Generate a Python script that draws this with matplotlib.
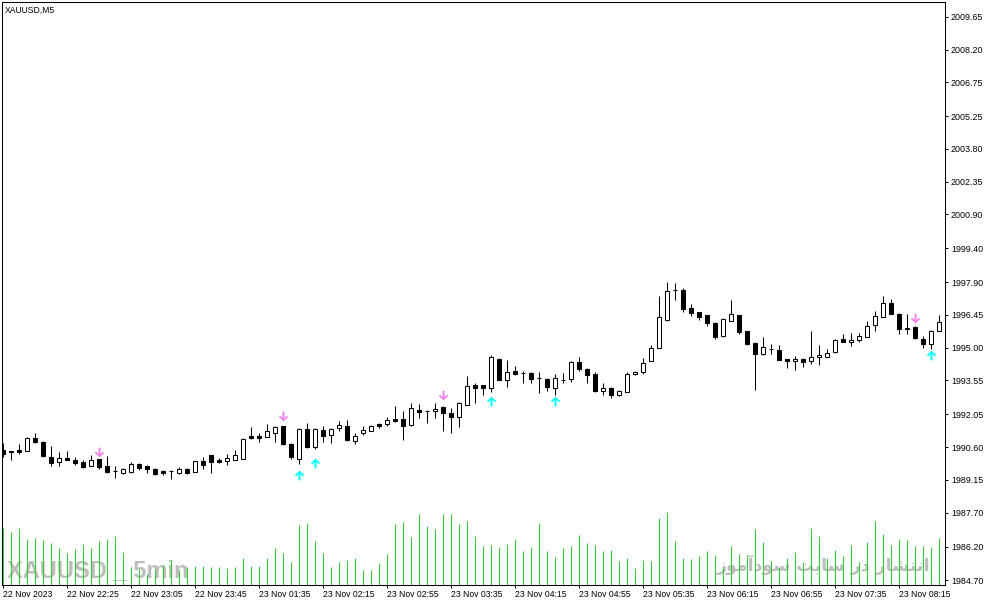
import matplotlib
matplotlib.use('Agg')
import matplotlib.pyplot as plt
from matplotlib.path import Path
import numpy as np

# XAUUSD M5 candles, 22 Nov 2023 21:45 .. 23 Nov 08:30
opens = [1990.47, 1990.41, 1990.47, 1990.44, 1990.99, 1990.84, 1990.18, 1989.94, 1990.13, 1990.01,
         1989.93, 1989.78, 1990.06, 1989.75, 1989.53, 1989.45, 1989.50, 1989.87, 1989.78, 1989.65,
         1989.53, 1989.56, 1989.47, 1989.62, 1989.51, 1989.97, 1990.24, 1990.03, 1989.98, 1990.03,
         1990.07, 1991.08, 1991.08, 1991.06, 1991.22, 1991.53, 1990.74, 1990.09, 1991.39, 1990.60,
         1991.34, 1991.15, 1991.45, 1991.52, 1990.87, 1991.24, 1991.31, 1991.61, 1991.62, 1991.83,
         1991.83, 1991.58, 1992.26, 1992.18, 1992.20, 1992.39, 1992.13, 1991.95, 1992.46, 1993.34,
         1993.34, 1993.20, 1994.52, 1993.57, 1993.99, 1993.88, 1993.90, 1993.66, 1993.63, 1993.23,
         1993.59, 1993.63, 1994.39, 1994.08, 1993.84, 1993.08, 1993.22, 1992.91, 1993.06, 1993.85,
         1993.94, 1994.43, 1995.01, 1996.23, 1997.54, 1997.54, 1996.75, 1996.56, 1996.44, 1996.08,
         1995.52, 1996.20, 1996.44, 1995.73, 1995.20, 1994.72, 1994.96, 1994.92, 1994.49, 1994.43,
         1994.52, 1994.43, 1994.61, 1994.61, 1994.81, 1995.40, 1995.24, 1995.36, 1995.49, 1996.02,
         1996.38, 1997.00, 1996.51, 1995.89, 1995.92, 1995.40, 1995.18, 1995.74]
highs = [1990.77, 1990.43, 1990.75, 1991.03, 1991.21, 1990.85, 1990.63, 1990.40, 1990.41, 1990.18,
         1990.01, 1990.24, 1990.07, 1990.19, 1989.76, 1989.66, 1989.94, 1989.91, 1989.79, 1989.66,
         1989.59, 1989.59, 1989.70, 1989.67, 1989.98, 1990.15, 1990.25, 1990.12, 1990.31, 1990.47,
         1990.99, 1991.48, 1991.21, 1991.61, 1991.52, 1991.54, 1990.78, 1991.43, 1991.68, 1991.43,
         1991.52, 1991.43, 1991.74, 1991.79, 1991.24, 1991.52, 1991.56, 1991.68, 1991.92, 1992.41,
         1992.20, 1992.57, 1992.53, 1992.23, 1992.57, 1992.40, 1992.33, 1992.61, 1993.75, 1993.42,
         1993.35, 1994.68, 1994.55, 1994.46, 1994.21, 1993.97, 1993.94, 1993.94, 1993.64, 1993.82,
         1993.90, 1994.40, 1994.61, 1994.09, 1993.93, 1993.44, 1993.26, 1993.15, 1993.94, 1993.99,
         1994.56, 1995.11, 1997.29, 1997.93, 1997.85, 1997.63, 1996.92, 1996.57, 1996.45, 1996.14,
         1996.30, 1997.10, 1996.45, 1995.74, 1995.27, 1995.49, 1995.15, 1995.14, 1994.50, 1994.65,
         1994.53, 1995.73, 1995.11, 1994.93, 1995.40, 1995.63, 1995.64, 1995.64, 1996.17, 1996.64,
         1997.31, 1997.14, 1996.52, 1996.48, 1995.96, 1995.52, 1995.77, 1996.44]
lows = [1990.15, 1990.03, 1990.31, 1990.43, 1990.80, 1990.16, 1989.76, 1989.76, 1990.02, 1989.82,
        1989.67, 1989.77, 1989.65, 1989.47, 1989.23, 1989.43, 1989.47, 1989.57, 1989.47, 1989.36,
        1989.38, 1989.17, 1989.41, 1989.41, 1989.50, 1989.62, 1989.44, 1989.88, 1989.82, 1990.02,
        1990.06, 1990.96, 1990.83, 1991.05, 1990.83, 1990.71, 1990.07, 1989.85, 1990.58, 1990.53,
        1990.83, 1990.78, 1991.30, 1990.86, 1990.72, 1991.14, 1991.30, 1991.45, 1991.53, 1991.71,
        1990.91, 1991.53, 1991.91, 1991.67, 1991.87, 1991.31, 1991.22, 1991.48, 1992.45, 1992.54,
        1992.91, 1993.06, 1993.56, 1993.26, 1993.81, 1993.46, 1993.46, 1993.01, 1993.08, 1992.91,
        1993.46, 1993.48, 1993.97, 1993.46, 1993.04, 1992.91, 1992.76, 1992.86, 1993.05, 1993.79,
        1993.85, 1994.42, 1995.00, 1996.18, 1997.11, 1996.60, 1996.41, 1996.23, 1995.96, 1995.37,
        1995.49, 1996.19, 1995.59, 1995.12, 1993.13, 1994.68, 1994.74, 1994.45, 1994.12, 1994.01,
        1994.16, 1994.30, 1994.24, 1994.60, 1994.77, 1995.26, 1995.09, 1995.27, 1995.48, 1995.76,
        1996.37, 1996.50, 1995.59, 1995.59, 1995.40, 1994.98, 1994.93, 1995.73]
closes = [1990.31, 1990.40, 1990.38, 1990.99, 1990.83, 1990.21, 1989.91, 1990.13, 1990.03, 1989.90,
          1989.72, 1990.01, 1989.72, 1989.50, 1989.53, 1989.62, 1989.84, 1989.67, 1989.65, 1989.41,
          1989.44, 1989.56, 1989.62, 1989.47, 1989.97, 1989.82, 1989.94, 1989.93, 1990.10, 1990.24,
          1990.94, 1990.99, 1990.99, 1991.30, 1991.51, 1990.74, 1990.15, 1991.42, 1990.59, 1991.39,
          1991.08, 1991.42, 1991.56, 1990.91, 1991.11, 1991.34, 1991.55, 1991.53, 1991.79, 1991.74,
          1991.53, 1992.32, 1992.15, 1992.18, 1992.30, 1992.11, 1991.93, 1992.57, 1993.31, 1993.22,
          1993.22, 1994.61, 1993.57, 1993.94, 1993.82, 1993.88, 1993.60, 1993.66, 1993.26, 1993.68,
          1993.59, 1994.39, 1994.04, 1993.79, 1993.08, 1993.22, 1992.91, 1993.10, 1993.85, 1993.94,
          1994.34, 1995.01, 1996.38, 1997.49, 1997.54, 1996.72, 1996.54, 1996.35, 1996.11, 1995.48,
          1996.26, 1996.48, 1995.71, 1995.17, 1994.72, 1995.05, 1994.96, 1994.46, 1994.43, 1994.52,
          1994.37, 1994.61, 1994.70, 1994.78, 1995.36, 1995.27, 1995.33, 1995.54, 1995.98, 1996.42,
          1997.00, 1996.51, 1995.83, 1995.83, 1995.42, 1995.17, 1995.76, 1996.13]
volumes = [169, 157, 169, 136, 141, 133, 126, 111, 96, 106,
           121, 109, 130, 136, 147, 99, 52, 46, 31, 46,
           60, 75, 45, 52, 57, 57, 54, 52, 49, 52,
           79, 57, 57, 79, 109, 94, 67, 178, 184, 130,
           94, 54, 67, 73, 79, 43, 43, 64, 91, 181,
           187, 142, 211, 175, 166, 211, 211, 181, 190, 145,
           115, 118, 112, 121, 136, 100, 112, 184, 100, 82,
           109, 115, 148, 124, 118, 100, 103, 70, 79, 49,
           73, 70, 199, 217, 130, 79, 76, 85, 100, 88,
           49, 115, 91, 88, 166, 127, 70, 52, 79, 97,
           67, 169, 145, 79, 103, 85, 118, 67, 127, 190,
           151, 118, 136, 133, 115, 115, 112, 139]

# signal arrows (bar index, price level)
sell_bars = [12, 35, 55, 114]
sell_prices = [1990.37, 1991.99, 1992.89, 1996.32]
buy_bars = [37, 39, 61, 69, 116]
buy_prices = [1989.35, 1989.90, 1992.63, 1992.63, 1994.67]

tick_bars = list(range(0, 118, 8))
tick_labels = ['22 Nov 2023', '22 Nov 22:25', '22 Nov 23:05', '22 Nov 23:45',
               '23 Nov 01:35', '23 Nov 02:15', '23 Nov 02:55', '23 Nov 03:35',
               '23 Nov 04:15', '23 Nov 04:55', '23 Nov 05:35', '23 Nov 06:15',
               '23 Nov 06:55', '23 Nov 07:35', '23 Nov 08:15']
price_ticks = [2009.65, 2008.20, 2006.75, 2005.25, 2003.80, 2002.35, 2000.90, 1999.40,
               1997.90, 1996.45, 1995.00, 1993.55, 1992.05, 1990.60, 1989.15, 1987.70,
               1986.20, 1984.70]

watermark = 'انتشار در سایت سودآموز'

# simple arabic-script shaping (matplotlib does no joining / bidi)
forms = {
    'ا': ('\uFE8D', '\uFE8E', None, None),
    'آ': ('\uFE81', '\uFE82', None, None),
    'ن': ('\uFEE5', '\uFEE6', '\uFEE7', '\uFEE8'),
    'ت': ('\uFE95', '\uFE96', '\uFE97', '\uFE98'),
    'ش': ('\uFEB5', '\uFEB6', '\uFEB7', '\uFEB8'),
    'ر': ('\uFEAD', '\uFEAE', None, None),
    'د': ('\uFEA9', '\uFEAA', None, None),
    'س': ('\uFEB1', '\uFEB2', '\uFEB3', '\uFEB4'),
    'ی': ('\uFEEF', '\uFEF0', '\uFEF3', '\uFEF4'),
    'و': ('\uFEED', '\uFEEE', None, None),
    'م': ('\uFEE1', '\uFEE2', '\uFEE3', '\uFEE4'),
    'ز': ('\uFEAF', '\uFEB0', None, None),
}


def shape(text):
    out = []
    for w in text.split(' '):
        s = ''
        for k, ch in enumerate(w):
            f = forms[ch]
            prev_j = k > 0 and forms[w[k - 1]][2] is not None
            next_j = k < len(w) - 1 and f[2] is not None
            if prev_j and next_j:
                s += f[3]
            elif prev_j:
                s += f[1]
            elif next_j:
                s += f[2]
            else:
                s += f[0]
        out.append(s)
    return ' '.join(out)[::-1]


# wingdings-like arrow marker (V head, thick stem)
up_pts = [(0, 1), (0.95, 0.1), (0.68, -0.17), (0.2, 0.33), (0.2, -1), (-0.2, -1),
          (-0.2, 0.33), (-0.68, -0.17), (-0.95, 0.1), (0, 1)]
up_arrow = Path(up_pts, closed=True)
down_arrow = Path([(px, -py) for px, py in up_pts], closed=True)

W, H = 991, 605
fig = plt.figure(figsize=(W / 100, H / 100), dpi=100)
fig.patch.set_facecolor('white')
x0, x1, y0, y1 = 2.3, 945.0, 2.3, 584.5
ax = fig.add_axes([x0 / W, 1 - y1 / H, (x1 - x0) / W, (y1 - y0) / H])
ax.set_facecolor('white')

# tick volumes on their own scale at the bottom
ax2 = ax.twinx()
ax2.set_zorder(ax.get_zorder() - 1)
ax.patch.set_visible(False)
ax2.patch.set_facecolor('white')

n = len(opens)
x = np.arange(n)
o = np.array(opens)
c = np.array(closes)

ax2.vlines(x, 0, volumes, color='#32cd32', linewidth=0.75, zorder=3)
ax2.set_ylim(0, (y1 - y0) * 3)
ax2.set_yticks([])
for s in ax2.spines.values():
    s.set_visible(False)

# watermark texts
ax2.text(7 / W, 1 - 577 / H, 'XAUUSD _ 5min', transform=fig.transFigure,
         family=['Liberation Sans'], fontweight='bold', fontsize=17,
         color='#bdbdbd', va='baseline', ha='left', zorder=2)
ax2.text(930 / W, 1 - 571 / H, shape(watermark), transform=fig.transFigure,
         family='DejaVu Sans', fontweight='bold', fontsize=12.5, color='#bdbdbd',
         va='baseline', ha='right', zorder=2)

# wicks
ax.vlines(x, lows, highs, color='black', linewidth=0.75, zorder=2)
# bodies
up = c > o
ax.bar(x[up], (c - o)[up], bottom=o[up], width=0.5, facecolor='white',
       edgecolor='black', linewidth=0.75, zorder=3)
ax.bar(x[~up], (o - c)[~up], bottom=c[~up], width=0.5, facecolor='black',
       edgecolor='black', linewidth=0.75, zorder=3)

ax.plot(sell_bars, sell_prices, linestyle='none', marker=down_arrow,
        markersize=7, color='#ee82ee', markeredgewidth=0, zorder=4)
ax.plot(buy_bars, buy_prices, linestyle='none', marker=up_arrow,
        markersize=7, color='#00ffff', markeredgewidth=0, zorder=4)

ax.set_xlim(-0.125, 117.71)
ax.set_ylim(1984.52, 2010.29)

ax.yaxis.tick_right()
ax.set_yticks(price_ticks)
ax.set_yticklabels(['%.2f' % v for v in price_ticks])
ax.set_xticks(tick_bars)
ax.set_xticklabels(tick_labels)
ax.tick_params(axis='y', direction='out', length=2.5, width=0.75, pad=1.8,
               labelsize=6.4, labelcolor='black', right=True, left=False,
               labelright=True, labelleft=False)
ax.tick_params(axis='x', direction='out', length=2.5, width=0.75, pad=1.5,
               labelsize=6.2, labelcolor='black')
for lab in ax.get_xticklabels() + ax.get_yticklabels():
    lab.set_family('Liberation Sans')
for lab in ax.get_xticklabels():
    lab.set_horizontalalignment('left')
for s in ax.spines.values():
    s.set_linewidth(0.75)
    s.set_color('black')

fig.text(5 / W, 1 - 10 / H, 'XAUUSD,M5', family='Liberation Sans', fontsize=6.2,
         color='black', va='center', ha='left')

fig.savefig('out.png', dpi=100, facecolor='white')
